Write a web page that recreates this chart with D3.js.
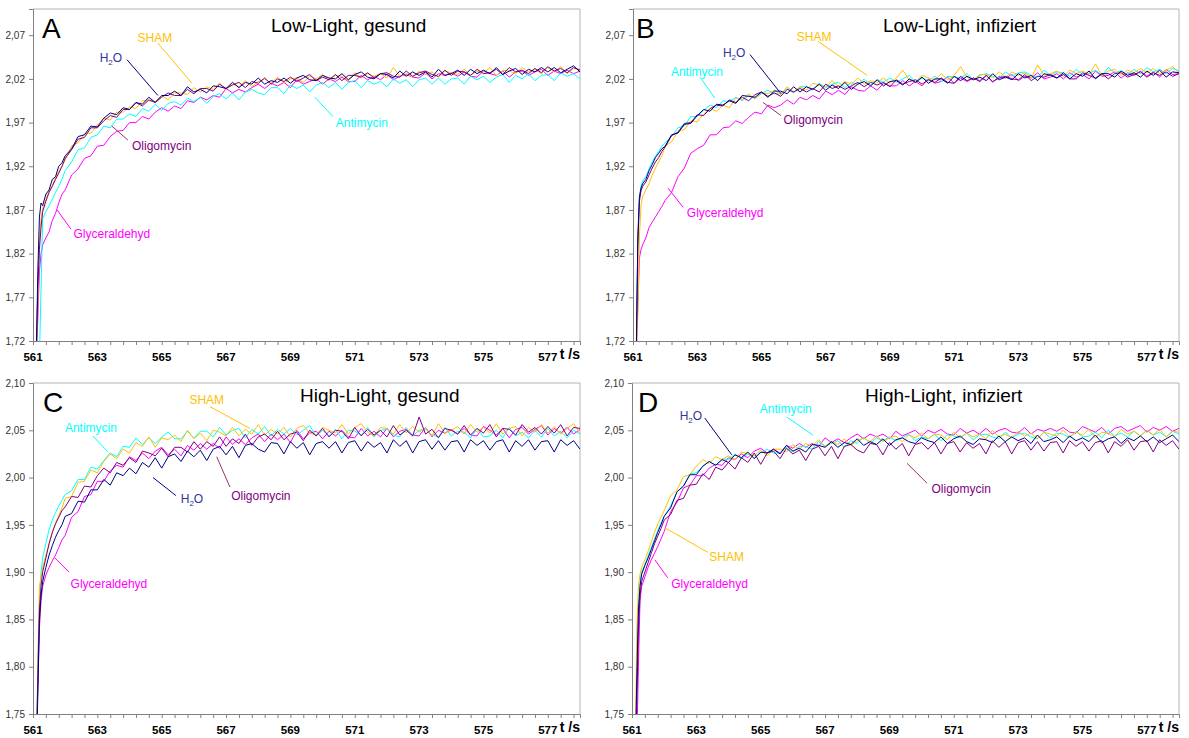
<!DOCTYPE html>
<html><head><meta charset="utf-8">
<script src="https://cdn.jsdelivr.net/npm/d3@7"></script>
<style>body{margin:0;background:#fff}svg{display:block;font-family:Arial,"Liberation Sans",sans-serif}</style>
</head><body>
<svg id="c" width="1189" height="738"></svg>
<script>
// ---------- data ----------
const time = [561.1,561.15,561.2,561.25,561.3,561.4,561.5,561.6,561.7,561.8,561.9,562,562.2,562.4,562.6,562.8,563,563.2,563.4,563.6,563.8,564,564.2,564.4,564.6,564.8,565,565.2,565.4,565.6,565.8,566,566.2,566.4,566.6,566.8,567,567.2,567.4,567.6,567.8,568,568.2,568.4,568.6,568.8,569,569.2,569.4,569.6,569.8,570,570.2,570.4,570.6,570.8,571,571.2,571.4,571.6,571.8,572,572.2,572.4,572.6,572.8,573,573.2,573.4,573.6,573.8,574,574.2,574.4,574.6,574.8,575,575.2,575.4,575.6,575.8,576,576.2,576.4,576.6,576.8,577,577.2,577.4,577.6,577.8,578];
const xTickLabels = [561,563,565,567,569,571,573,575,577];
const yTicksLow = [1.72,1.77,1.82,1.87,1.92,1.97,2.02,2.07];
const yTicksHigh = [1.75,1.80,1.85,1.90,1.95,2.00,2.05,2.10];
const seriesNames = ["Glyceraldehyd","Antimycin","SHAM","Oligomycin","H2O"];

// Panel A: Low-Light, gesund
const A_H2O = [1.70,1.80,1.862,1.878,1.875,1.888,1.893,1.905,1.908,1.92,1.924,
1.932,1.940,1.954,1.956,1.966,1.965,1.975,1.981,1.979,1.987,1.985,
1.993,1.991,1.999,1.993,2.001,2.001,2.006,2.001,2.011,2.005,
2.008,2.004,2.012,2.011,2.009,2.016,2.010,2.016,2.014,2.021,
2.014,2.018,2.016,2.021,2.015,2.021,2.024,2.019,2.018,2.024,
2.021,2.020,2.026,2.019,2.025,2.028,2.022,2.020,2.026,2.025,
2.021,2.029,2.023,2.028,2.024,2.028,2.022,2.031,2.024,2.026,
2.030,2.024,2.031,2.026,2.030,2.026,2.033,2.025,2.029,2.032,
2.025,2.031,2.028,2.033,2.028,2.033,2.027,2.031,2.035,2.028];
const A_SHAM = [1.70,1.76,1.835,1.86,1.872,1.882,1.892,1.898,1.907,1.914,1.92,
1.927,1.943,1.947,1.957,1.958,1.967,1.975,1.973,1.982,1.982,1.988,
1.986,1.995,1.995,1.994,2.001,1.996,2.004,2.004,2.002,2.010,
2.005,2.011,2.008,2.015,2.008,2.014,2.011,2.018,2.011,2.017,
2.020,2.015,2.022,2.015,2.020,2.021,2.016,2.023,2.020,2.025,
2.018,2.024,2.023,2.018,2.027,2.021,2.026,2.023,2.026,2.021,
2.033,2.023,2.026,2.022,2.029,2.025,2.028,2.022,2.029,2.027,
2.025,2.031,2.024,2.029,2.027,2.033,2.024,2.030,2.029,2.026,
2.033,2.028,2.031,2.026,2.033,2.028,2.034,2.026,2.032,2.031];
const A_Oligomycin = [1.70,1.78,1.825,1.85,1.868,1.88,1.89,1.897,1.905,1.912,1.92,
1.929,1.939,1.951,1.953,1.964,1.964,1.972,1.978,1.976,1.985,1.985,
1.993,1.989,1.996,1.993,1.999,2.004,2.001,2.001,2.008,2.003,
2.009,2.009,2.006,2.014,2.009,2.013,2.016,2.010,2.017,2.015,
2.021,2.014,2.020,2.017,2.022,2.017,2.021,2.025,2.018,2.022,
2.019,2.025,2.018,2.024,2.024,2.022,2.027,2.021,2.026,2.027,
2.023,2.022,2.029,2.023,2.027,2.029,2.025,2.023,2.030,2.024,
2.029,2.028,2.024,2.031,2.026,2.027,2.031,2.025,2.033,2.028,
2.030,2.026,2.032,2.027,2.034,2.029,2.032,2.027,2.033,2.030];
const A_Antimycin = [1.65,1.66,1.70,1.78,1.86,1.868,1.875,1.882,1.89,1.897,1.905,
1.915,1.925,1.939,1.941,1.953,1.956,1.966,1.964,1.974,1.974,1.980,
1.977,1.986,1.983,1.991,1.984,1.992,1.994,1.990,1.998,1.994,
1.999,1.992,2.000,2.003,1.997,2.004,1.996,2.005,2.008,2.004,
2.002,2.010,2.010,2.003,2.013,2.009,2.013,2.005,2.013,2.016,
2.010,2.016,2.008,2.016,2.018,2.010,2.018,2.014,2.017,2.011,
2.020,2.015,2.019,2.011,2.019,2.021,2.014,2.021,2.014,2.020,
2.021,2.014,2.023,2.019,2.023,2.016,2.022,2.025,2.016,2.024,
2.020,2.026,2.018,2.024,2.025,2.018,2.027,2.023,2.026,2.020];
const A_Glyceraldehyd = [1.70,1.745,1.80,1.82,1.83,1.838,1.845,1.858,1.866,1.878,1.888,
1.893,1.910,1.917,1.929,1.932,1.943,1.944,1.954,1.960,1.961,1.970,
1.970,1.977,1.974,1.982,1.987,1.983,1.989,1.986,1.995,1.993,
1.999,1.996,2.001,1.999,2.009,2.004,2.008,2.005,2.010,2.014,
2.009,2.015,2.012,2.016,2.010,2.019,2.014,2.017,2.020,2.014,
2.020,2.017,2.022,2.017,2.017,2.024,2.019,2.023,2.019,2.025,
2.019,2.023,2.025,2.022,2.021,2.027,2.020,2.026,2.024,2.027,
2.023,2.028,2.023,2.022,2.029,2.026,2.024,2.029,2.022,2.028,
2.029,2.024,2.028,2.031,2.024,2.029,2.026,2.030,2.026,2.029];

// Panel B: Low-Light, infiziert
const B_SHAM = [1.70,1.75,1.84,1.875,1.885,1.893,1.90,1.91,1.918,1.925,1.932,
1.943,1.948,1.960,1.962,1.972,1.971,1.980,1.986,1.983,1.990,1.987,
1.998,1.996,2.003,1.997,2.004,2.003,2.007,2.002,2.011,2.005,
2.011,2.007,2.015,2.013,2.011,2.018,2.011,2.017,2.014,2.021,
2.014,2.018,2.016,2.021,2.015,2.021,2.030,2.019,2.017,2.024,
2.021,2.019,2.026,2.019,2.024,2.034,2.022,2.019,2.025,2.025,
2.021,2.028,2.022,2.028,2.024,2.027,2.021,2.036,2.024,2.026,
2.029,2.023,2.030,2.026,2.029,2.025,2.037,2.024,2.029,2.031,
2.024,2.030,2.027,2.032,2.027,2.032,2.026,2.030,2.034,2.027];
const B_H2O = [1.70,1.84,1.885,1.895,1.90,1.905,1.915,1.922,1.93,1.935,1.94,
1.943,1.956,1.958,1.968,1.969,1.978,1.985,1.983,1.991,1.990,1.995,
1.992,2.001,2.000,1.999,2.005,1.999,2.006,2.006,2.003,2.011,
2.005,2.011,2.008,2.014,2.007,2.013,2.009,2.016,2.008,2.014,
2.017,2.012,2.019,2.012,2.017,2.018,2.013,2.020,2.016,2.022,
2.015,2.020,2.020,2.015,2.023,2.018,2.023,2.019,2.022,2.018,
2.026,2.019,2.022,2.019,2.026,2.021,2.024,2.018,2.026,2.024,
2.021,2.027,2.020,2.026,2.023,2.029,2.020,2.026,2.026,2.022,
2.029,2.024,2.027,2.022,2.029,2.024,2.030,2.022,2.028,2.027];
const B_Antimycin = [1.70,1.83,1.885,1.897,1.903,1.908,1.917,1.925,1.932,1.937,1.943,
1.947,1.954,1.964,1.966,1.977,1.977,1.984,1.990,1.987,1.995,1.994,
1.999,1.995,2.001,1.998,2.003,2.007,2.003,2.003,2.009,2.004,
2.011,2.011,2.008,2.015,2.010,2.014,2.016,2.010,2.016,2.014,
2.020,2.013,2.019,2.016,2.021,2.016,2.020,2.024,2.016,2.021,
2.018,2.023,2.017,2.023,2.022,2.021,2.026,2.019,2.024,2.026,
2.023,2.021,2.028,2.023,2.027,2.028,2.024,2.022,2.030,2.024,
2.028,2.027,2.023,2.031,2.025,2.026,2.030,2.024,2.033,2.027,
2.029,2.025,2.031,2.026,2.033,2.028,2.031,2.026,2.032,2.029];
const B_Oligomycin = [1.70,1.83,1.88,1.892,1.897,1.902,1.91,1.918,1.925,1.93,1.937,
1.942,1.955,1.959,1.969,1.970,1.979,1.978,1.986,1.990,1.989,1.996,
1.993,1.999,1.995,2.002,2.005,2.000,2.004,2.000,2.008,2.005,
2.009,2.005,2.009,2.005,2.014,2.009,2.012,2.008,2.012,2.016,
2.011,2.016,2.013,2.016,2.011,2.019,2.014,2.017,2.019,2.014,
2.019,2.016,2.021,2.016,2.015,2.023,2.018,2.021,2.017,2.024,
2.017,2.021,2.023,2.020,2.019,2.025,2.018,2.023,2.022,2.025,
2.021,2.025,2.020,2.020,2.027,2.024,2.021,2.026,2.020,2.026,
2.027,2.022,2.025,2.028,2.022,2.027,2.024,2.028,2.023,2.026];
const B_Glyceraldehyd = [1.70,1.76,1.815,1.825,1.83,1.838,1.85,1.856,1.862,1.868,1.874,
1.881,1.890,1.908,1.918,1.935,1.940,1.944,1.956,1.956,1.964,1.965,
1.972,1.969,1.976,1.982,1.980,1.990,1.987,1.990,1.996,1.991,
1.999,1.996,2.001,1.997,2.006,2.002,2.007,2.002,2.011,2.007,
2.006,2.012,2.007,2.015,2.012,2.012,2.018,2.012,2.017,2.012,
2.020,2.015,2.017,2.022,2.015,2.021,2.017,2.021,2.018,2.024,
2.016,2.023,2.021,2.025,2.018,2.023,2.021,2.027,2.020,2.022,
2.026,2.020,2.027,2.022,2.025,2.020,2.029,2.023,2.024,2.028,
2.021,2.027,2.024,2.029,2.023,2.028,2.022,2.031,2.025,2.026];

// Panel C: High-Light, gesund
const C_Antimycin = [1.70,1.80,1.87,1.90,1.915,1.93,1.945,1.955,1.963,1.97,1.976,
1.982,1.986,1.998,1.998,2.011,2.009,2.018,2.026,2.022,2.033,2.032,
2.042,2.035,2.042,2.036,2.043,2.048,2.041,2.041,2.049,2.042,
2.049,2.049,2.043,2.053,2.045,2.050,2.052,2.042,2.051,2.046,
2.054,2.044,2.051,2.046,2.052,2.045,2.050,2.055,2.044,2.050,
2.044,2.051,2.041,2.050,2.049,2.045,2.053,2.043,2.050,2.051,
2.045,2.043,2.053,2.044,2.050,2.051,2.045,2.043,2.053,2.044,
2.049,2.048,2.042,2.052,2.043,2.044,2.050,2.042,2.053,2.044,
2.048,2.042,2.050,2.043,2.052,2.044,2.049,2.042,2.050,2.046];
const C_SHAM = [1.70,1.80,1.885,1.895,1.905,1.918,1.93,1.942,1.952,1.96,1.968,
1.978,1.980,1.995,1.996,2.008,2.005,2.017,2.025,2.020,2.030,2.026,
2.037,2.033,2.043,2.032,2.042,2.040,2.045,2.038,2.050,2.041,
2.047,2.039,2.050,2.048,2.044,2.053,2.044,2.051,2.046,2.056,
2.045,2.051,2.046,2.053,2.043,2.052,2.055,2.047,2.045,2.053,
2.050,2.047,2.056,2.046,2.053,2.057,2.048,2.044,2.053,2.052,
2.046,2.056,2.047,2.054,2.048,2.053,2.044,2.057,2.047,2.050,
2.054,2.046,2.056,2.048,2.053,2.047,2.057,2.046,2.052,2.054,
2.044,2.053,2.048,2.056,2.047,2.054,2.046,2.052,2.057,2.047];
const C_Oligomycin = [1.70,1.79,1.86,1.885,1.90,1.915,1.93,1.942,1.951,1.958,1.965,
1.969,1.980,1.979,1.991,1.990,2.002,2.010,2.005,2.016,2.013,2.021,
2.016,2.028,2.026,2.023,2.031,2.022,2.032,2.032,2.027,2.038,
2.030,2.038,2.033,2.043,2.033,2.041,2.036,2.046,2.034,2.043,
2.046,2.040,2.049,2.040,2.046,2.048,2.039,2.050,2.044,2.052,
2.043,2.050,2.049,2.041,2.053,2.044,2.051,2.045,2.050,2.043,
2.055,2.045,2.050,2.044,2.064,2.046,2.051,2.042,2.052,2.050,
2.046,2.055,2.045,2.052,2.047,2.056,2.043,2.052,2.051,2.045,
2.056,2.048,2.053,2.046,2.054,2.047,2.056,2.044,2.053,2.052];
const C_Glyceraldehyd = [1.70,1.78,1.84,1.87,1.885,1.897,1.905,1.912,1.918,1.926,1.934,
1.939,1.958,1.964,1.980,1.982,1.996,1.996,2.007,2.013,2.011,2.022,
2.018,2.026,2.020,2.028,2.032,2.024,2.030,2.023,2.034,2.029,
2.036,2.030,2.036,2.031,2.043,2.035,2.041,2.035,2.042,2.046,
2.038,2.046,2.040,2.046,2.037,2.050,2.041,2.047,2.049,2.041,
2.049,2.044,2.050,2.043,2.042,2.052,2.044,2.049,2.043,2.052,
2.043,2.049,2.051,2.045,2.044,2.053,2.043,2.050,2.047,2.051,
2.046,2.052,2.045,2.044,2.054,2.050,2.045,2.052,2.042,2.051,
2.053,2.046,2.051,2.055,2.045,2.052,2.047,2.053,2.046,2.051];
const C_H2O = [1.70,1.77,1.85,1.875,1.89,1.905,1.918,1.928,1.937,1.944,1.95,
1.959,1.962,1.975,1.974,1.987,1.987,1.998,1.992,2.005,2.002,2.010,
2.004,2.016,2.011,2.021,2.010,2.022,2.025,2.017,2.028,2.022,
2.029,2.018,2.030,2.033,2.024,2.033,2.021,2.034,2.036,2.030,
2.027,2.037,2.036,2.025,2.038,2.031,2.037,2.024,2.036,2.038,
2.031,2.038,2.026,2.037,2.039,2.028,2.038,2.032,2.037,2.026,
2.040,2.033,2.039,2.026,2.038,2.040,2.030,2.039,2.029,2.038,
2.039,2.027,2.040,2.034,2.039,2.029,2.038,2.040,2.027,2.039,
2.033,2.040,2.029,2.038,2.039,2.027,2.040,2.034,2.039,2.030];

// Panel D: High-Light, infiziert
const D_Antimycin = [1.70,1.80,1.865,1.89,1.90,1.908,1.917,1.926,1.935,1.944,1.952,
1.959,1.970,1.985,1.991,2.004,2.005,2.012,2.017,2.013,2.020,2.019,
2.025,2.020,2.025,2.021,2.026,2.030,2.026,2.026,2.032,2.027,
2.033,2.033,2.030,2.038,2.033,2.036,2.039,2.032,2.039,2.036,
2.043,2.036,2.042,2.039,2.043,2.039,2.042,2.046,2.039,2.043,
2.041,2.046,2.039,2.045,2.044,2.042,2.047,2.040,2.045,2.046,
2.043,2.041,2.048,2.042,2.046,2.047,2.043,2.041,2.048,2.042,
2.047,2.046,2.042,2.049,2.043,2.044,2.048,2.042,2.050,2.044,
2.047,2.043,2.049,2.044,2.050,2.045,2.048,2.043,2.049,2.046];
const D_H2O = [1.70,1.79,1.86,1.885,1.898,1.907,1.915,1.924,1.933,1.942,1.95,
1.959,1.968,1.985,1.991,2.003,2.003,2.012,2.017,2.013,2.019,2.016,
2.024,2.021,2.027,2.020,2.027,2.026,2.030,2.025,2.034,2.028,
2.031,2.027,2.035,2.034,2.032,2.038,2.032,2.037,2.035,2.041,
2.034,2.038,2.035,2.041,2.034,2.040,2.042,2.038,2.036,2.042,
2.039,2.037,2.043,2.036,2.041,2.044,2.038,2.035,2.041,2.040,
2.037,2.044,2.038,2.043,2.039,2.042,2.036,2.045,2.038,2.040,
2.043,2.037,2.044,2.039,2.042,2.038,2.045,2.037,2.041,2.043,
2.036,2.042,2.039,2.044,2.038,2.043,2.037,2.041,2.045,2.038];
const D_SHAM = [1.70,1.84,1.885,1.898,1.905,1.913,1.922,1.932,1.942,1.951,1.958,
1.965,1.981,1.987,2.001,2.003,2.012,2.019,2.015,2.022,2.019,2.023,
2.019,2.027,2.025,2.023,2.029,2.023,2.030,2.030,2.027,2.035,
2.030,2.036,2.033,2.040,2.033,2.038,2.035,2.041,2.034,2.039,
2.042,2.038,2.044,2.038,2.042,2.044,2.038,2.045,2.042,2.047,
2.041,2.046,2.045,2.040,2.048,2.042,2.047,2.043,2.046,2.041,
2.050,2.043,2.046,2.042,2.049,2.044,2.047,2.041,2.048,2.046,
2.044,2.050,2.043,2.048,2.045,2.051,2.042,2.048,2.047,2.043,
2.051,2.046,2.049,2.044,2.050,2.045,2.051,2.043,2.049,2.048];
const D_Oligomycin = [1.70,1.76,1.84,1.875,1.89,1.90,1.91,1.92,1.93,1.938,1.946,
1.955,1.961,1.976,1.978,1.992,1.993,2.004,1.998,2.011,2.008,2.016,
2.009,2.021,2.016,2.026,2.014,2.026,2.028,2.020,2.031,2.025,
2.029,2.018,2.030,2.033,2.023,2.033,2.020,2.033,2.035,2.029,
2.026,2.036,2.035,2.024,2.037,2.030,2.036,2.023,2.035,2.037,
2.030,2.037,2.025,2.036,2.038,2.027,2.037,2.031,2.036,2.025,
2.039,2.032,2.038,2.025,2.037,2.039,2.029,2.038,2.028,2.037,
2.038,2.026,2.039,2.033,2.038,2.028,2.037,2.039,2.026,2.038,
2.033,2.040,2.029,2.038,2.039,2.027,2.040,2.034,2.039,2.030];
const D_Glyceraldehyd = [1.70,1.72,1.80,1.87,1.885,1.895,1.905,1.913,1.92,1.927,1.935,
1.943,1.964,1.974,1.989,1.992,2.002,2.002,2.010,2.014,2.013,2.021,
2.019,2.025,2.021,2.028,2.031,2.026,2.030,2.026,2.034,2.031,
2.036,2.032,2.036,2.033,2.042,2.037,2.041,2.037,2.042,2.046,
2.041,2.046,2.043,2.046,2.041,2.049,2.044,2.047,2.050,2.044,
2.050,2.047,2.051,2.046,2.045,2.052,2.047,2.050,2.046,2.052,
2.046,2.050,2.052,2.048,2.047,2.053,2.046,2.051,2.049,2.052,
2.049,2.053,2.048,2.047,2.054,2.051,2.048,2.053,2.046,2.052,
2.054,2.049,2.052,2.055,2.048,2.053,2.050,2.054,2.049,2.052];

// ---------- styling & layout ----------
const lineColor = {SHAM:"#ffc000", H2O:"#000080", Antimycin:"#00ffff", Oligomycin:"#800080", Glyceraldehyd:"#ff00ff"};
const textColor = {SHAM:"#ffc000", H2O:"#333399", Antimycin:"#00ffff", Oligomycin:"#800080", Glyceraldehyd:"#ff00ff"};
const leaderColor = {SHAM:"#ffc000", H2O:"#000080", Antimycin:"#00ffff", Oligomycin:"#993366", Glyceraldehyd:"#ff00ff"};

const panels = [
  {letter:"A", title:"Low-Light, gesund", box:{l:33,r:580,t:9,b:341}, yDomain:[1.72,2.10], yTicks:yTicksLow,
   letterDx:9, titleX:271, titleY:32,
   data:{SHAM:A_SHAM,H2O:A_H2O,Antimycin:A_Antimycin,Oligomycin:A_Oligomycin,Glyceraldehyd:A_Glyceraldehyd},
   ann:[
    {s:"SHAM", at:[564.79,2.067], from:[564.88,2.061], to:[565.94,2.015]},
    {s:"H2O", at:[563.42,2.045], from:[563.92,2.042], to:[564.88,2.001]},
    {s:"Oligomycin", at:[565.0,1.944], from:[563.95,1.950], to:[563.45,1.966]},
    {s:"Glyceraldehyd", at:[563.45,1.843], from:[562.18,1.848], to:[561.75,1.870]},
    {s:"Antimycin", at:[571.22,1.970], from:[570.32,1.977], to:[569.76,1.999]}]},
  {letter:"B", title:"Low-Light, infiziert", box:{l:633,r:1179,t:9,b:341}, yDomain:[1.72,2.10], yTicks:yTicksLow,
   letterDx:3, titleX:883, titleY:32,
   data:{SHAM:B_SHAM,H2O:B_H2O,Antimycin:B_Antimycin,Oligomycin:B_Oligomycin,Glyceraldehyd:B_Glyceraldehyd},
   ann:[
    {s:"SHAM", at:[566.64,2.069], from:[566.76,2.063], to:[568.29,2.024]},
    {s:"H2O", at:[564.15,2.050], from:[564.64,2.048], to:[565.61,2.003]},
    {s:"Antimycin", at:[562.99,2.029], from:[563.09,2.022], to:[563.55,1.998]},
    {s:"Oligomycin", at:[566.61,1.974], from:[565.61,1.978], to:[565.05,1.993]},
    {s:"Glyceraldehyd", at:[563.87,1.867], from:[562.56,1.873], to:[562.09,1.895]}]},
  {letter:"C", title:"High-Light, gesund", box:{l:33,r:580,t:383,b:714}, yDomain:[1.75,2.10], yTicks:yTicksHigh,
   letterDx:10, titleX:300, titleY:402,
   data:{SHAM:C_SHAM,H2O:C_H2O,Antimycin:C_Antimycin,Oligomycin:C_Oligomycin,Glyceraldehyd:C_Glyceraldehyd},
   ann:[
    {s:"SHAM", at:[566.40,2.083], from:[566.5,2.075], to:[567.74,2.052]},
    {s:"Antimycin", at:[562.8,2.053], from:[562.86,2.044], to:[563.33,2.027]},
    {s:"H2O", at:[565.94,1.978], from:[565.44,1.981], to:[564.73,2.000]},
    {s:"Oligomycin", at:[568.08,1.981], from:[567.12,1.990], to:[566.71,2.022]},
    {s:"Glyceraldehyd", at:[563.36,1.888], from:[562.12,1.900], to:[561.68,1.915]}]},
  {letter:"D", title:"High-Light, infiziert", box:{l:632,r:1179,t:383,b:714}, yDomain:[1.75,2.10], yTicks:yTicksHigh,
   letterDx:6, titleX:865, titleY:402,
   data:{SHAM:D_SHAM,H2O:D_H2O,Antimycin:D_Antimycin,Oligomycin:D_Oligomycin,Glyceraldehyd:D_Glyceraldehyd},
   ann:[
    {s:"H2O", at:[562.83,2.066], from:[563.26,2.063], to:[564.10,2.024]},
    {s:"Antimycin", at:[565.78,2.073], from:[565.81,2.064], to:[566.62,2.045]},
    {s:"SHAM", at:[563.94,1.917], from:[563.35,1.921], to:[562.02,1.947]},
    {s:"Glyceraldehyd", at:[563.41,1.888], from:[562.11,1.894], to:[561.71,1.913]},
    {s:"Oligomycin", at:[571.23,1.988], from:[570.17,1.994], to:[569.55,2.015]}]}
];

const svg = d3.select("#c");
const fmt = v => d3.format(".2f")(v).replace(".", ",");

panels.forEach((p, pi) => {
  const {l, r, t, b} = p.box;
  const x = d3.scaleLinear().domain([561, 578]).range([l, r]);
  const y = d3.scaleLinear().domain(p.yDomain).range([b, t]);
  const g = svg.append("g");

  const clipId = "clip" + pi;
  g.append("clipPath").attr("id", clipId).append("rect")
    .attr("x", l).attr("y", t).attr("width", r - l).attr("height", b - t);

  // frame (top/right light)
  g.append("path").attr("d", `M${l},${t}H${r}V${b}`).attr("fill", "none").attr("stroke", "#b4b4b4").attr("stroke-width", 1);

  // lines
  const line = d3.line().x((d, i) => x(time[i])).y(d => y(d));
  const lg = g.append("g").attr("clip-path", `url(#${clipId})`);
  seriesNames.forEach(name => {
    lg.append("path").datum(p.data[name]).attr("d", line)
      .attr("fill", "none").attr("stroke", lineColor[name]).attr("stroke-width", 1)
      .attr("stroke-linejoin", "round");
  });

  // y axis
  const yAxis = d3.axisLeft(y).tickValues(p.yTicks).tickSize(4).tickPadding(4).tickFormat(fmt);
  const ya = g.append("g").attr("transform", `translate(${l},0)`).call(yAxis);
  ya.select(".domain").attr("stroke", "#808080");
  ya.selectAll(".tick line").attr("stroke", "#808080");
  ya.selectAll(".tick text").attr("fill", "#333").attr("font-size", 10).attr("font-family", "Arial, 'Liberation Sans', sans-serif");

  // x axis: minor ticks every 0.4 s, labels every 2 s
  const minor = d3.range(0, 43).map(k => 561 + 0.4 * k);
  const xAxis = d3.axisBottom(x).tickValues(minor).tickSize(4).tickFormat("");
  const xa = g.append("g").attr("transform", `translate(0,${b})`).call(xAxis);
  xa.select(".domain").attr("stroke", "#808080");
  xa.selectAll(".tick line").attr("stroke", "#808080");
  g.selectAll(".xl").data(xTickLabels).join("text")
    .attr("x", d => x(d)).attr("y", b + 20).attr("text-anchor", "middle")
    .attr("font-size", 11.5).attr("font-weight", "bold").attr("fill", "#000").text(d => d);
  g.append("text").attr("x", r).attr("y", b + 18).attr("text-anchor", "end")
    .attr("font-size", 14).attr("font-weight", "bold").text("t /s");

  // letter and title
  g.append("text").attr("x", l + p.letterDx).attr("y", t + 29).attr("font-size", 28).text(p.letter);
  g.append("text").attr("x", p.titleX).attr("y", p.titleY).attr("font-size", 19).text(p.title);

  // annotations
  p.ann.forEach(a => {
    g.append("line").attr("x1", x(a.from[0])).attr("y1", y(a.from[1]))
      .attr("x2", x(a.to[0])).attr("y2", y(a.to[1]))
      .attr("stroke", leaderColor[a.s]).attr("stroke-width", 1);
    const tx = g.append("text").attr("x", x(a.at[0])).attr("y", y(a.at[1]) + 4.5)
      .attr("text-anchor", "middle").attr("font-size", 12).attr("fill", textColor[a.s]);
    if (a.s === "H2O") {
      tx.append("tspan").text("H");
      tx.append("tspan").attr("font-size", 8).attr("dy", 3).text("2");
      tx.append("tspan").attr("dy", -3).text("O");
    } else {
      tx.text(a.s);
    }
  });
});
</script>
</body></html>
